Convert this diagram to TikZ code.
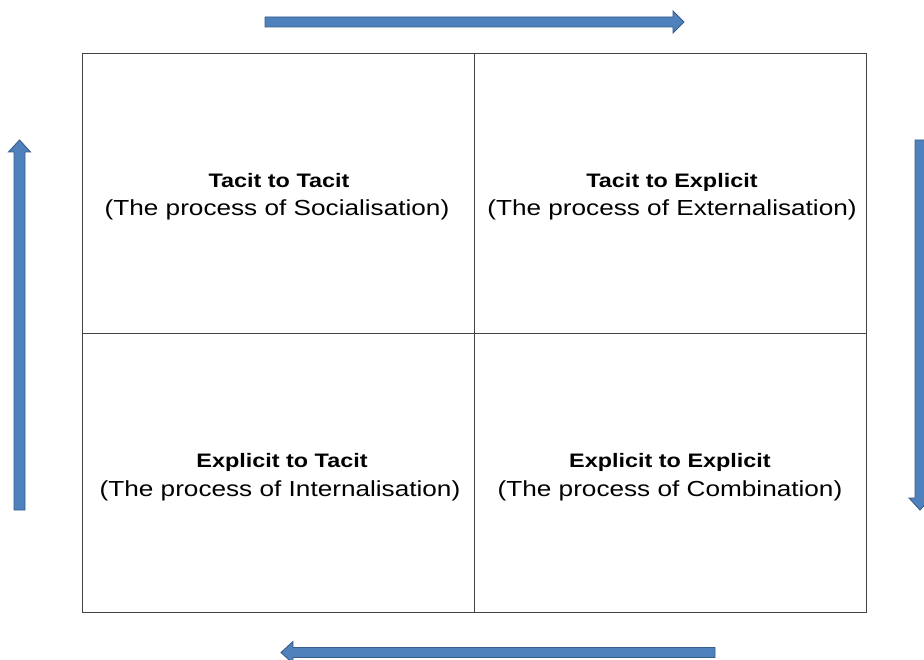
\documentclass[tikz,border=0pt]{standalone}
\usepackage{fontspec}
\setmainfont{Liberation Sans}
\newfontfamily\widesans[FakeStretch=1.2]{Liberation Sans}
\definecolor{arrowfill}{HTML}{4F81BD}
\definecolor{arrowline}{HTML}{385D8A}
\definecolor{gridline}{HTML}{444444}
\begin{document}
\begin{tikzpicture}[x=1pt,y=-1pt,
  cell/.style={draw=gridline, line width=1.3pt, minimum width=392pt, minimum height=280pt, inner sep=0pt, anchor=north west},
  blockarrow/.style={fill=arrowfill, draw=arrowline, line width=0.9pt, line join=miter},
  title/.style={anchor=base, font=\widesans\bfseries\fontsize{19.5}{22}\selectfont, inner sep=0pt},
  sub/.style={anchor=base, font=\widesans\fontsize{21.8}{25}\selectfont, inner sep=0pt}]
\useasboundingbox (0,0) rectangle (924,660);
\clip (0,0) rectangle (924,660);
\fill[white] (0,0) rectangle (924,660);

% grid cells
\node[cell] (c11) at (82,53) {};
\node[cell] (c12) at (474,53) {};
\node[cell, minimum height=279pt] (c21) at (82,333) {};
\node[cell, minimum height=279pt] (c22) at (474,333) {};

% texts
\node[title] (t11) at (279,188) {Tacit to Tacit};
\node[sub] (s11) at (277,216) {(The process of Socialisation)};
\node[title] (t12) at (672,188) {Tacit to Explicit};
\node[sub] (s12) at (672,216) {(The process of Externalisation)};
\node[title] (t21) at (282,467) {Explicit to Tacit};
\node[sub] (s21) at (280,496) {(The process of Internalisation)};
\node[title] (t22) at (670,467) {Explicit to Explicit};
\node[sub] (s22) at (670,496) {(The process of Combination)};

% block arrows
\draw[blockarrow] (265,17) -- (673,17) -- (673,11) -- (684,22) -- (673,33) -- (673,27) -- (265,27) -- cycle;
\draw[blockarrow] (715,647.5) -- (293,647.5) -- (293,641.5) -- (281,652.5) -- (293,663.5) -- (293,657.5) -- (715,657.5) -- cycle;
\draw[blockarrow] (14,510) -- (14,152) -- (8.5,152) -- (19.5,140) -- (30.5,152) -- (25,152) -- (25,510) -- cycle;
\draw[blockarrow] (915,140) -- (915,498) -- (909,498) -- (920,510) -- (931,498) -- (925,498) -- (925,140) -- cycle;
\end{tikzpicture}
\end{document}
